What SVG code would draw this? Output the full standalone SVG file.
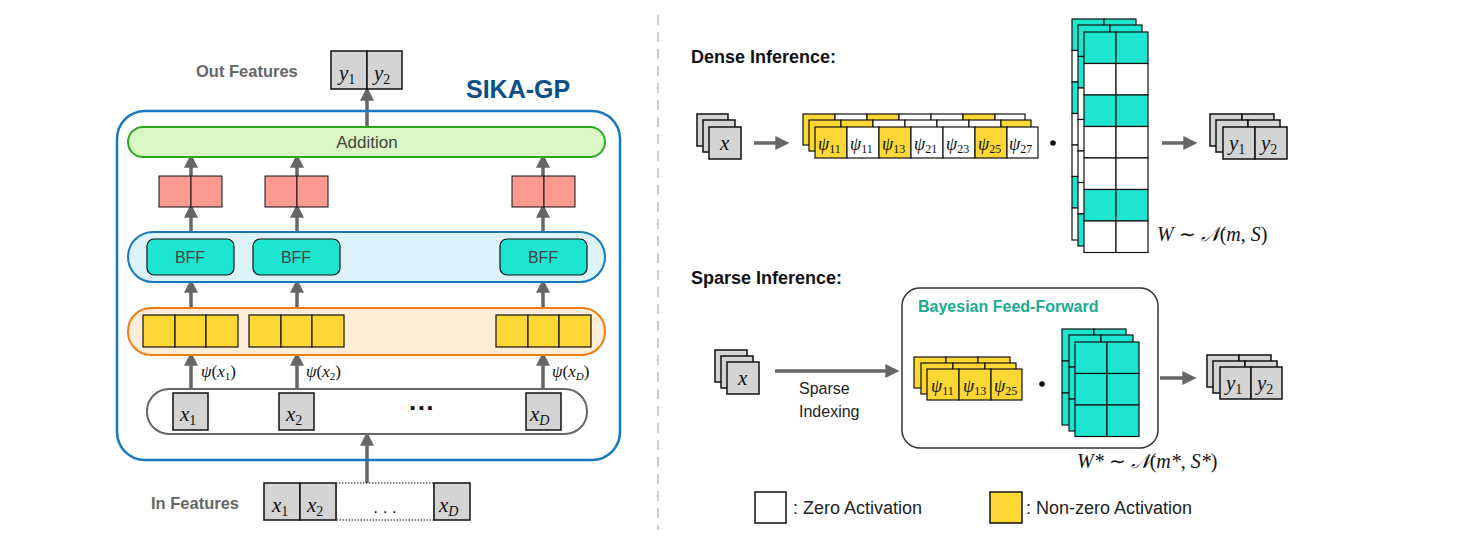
<svg xmlns="http://www.w3.org/2000/svg" width="1475" height="540" viewBox="0 0 1475 540">
<style>
.ar{stroke:#666;stroke-width:3.5;fill:none;marker-end:url(#ah)}
.g{fill:#d4d4d4;stroke:#111;stroke-width:1.5}
.y{fill:#fdd835;stroke:#111;stroke-width:1.2}
.w{fill:#fff;stroke:#111;stroke-width:1.2}
.t{fill:#1de5cf;stroke:#111;stroke-width:1.2}
.r{fill:#fb9a90;stroke:#111;stroke-width:1}
.m{font-family:"Liberation Serif",serif;font-style:italic;fill:#111}
.s{font-family:"Liberation Sans",Arial,sans-serif}
.hb{font-family:"Liberation Sans",Arial,sans-serif;font-weight:bold}
</style>
<defs>
<marker id="ah" markerWidth="4" markerHeight="4" refX="2.2" refY="2" orient="auto"><path d="M0,0L4,2L0,4Z" fill="#666"/></marker>
</defs>
<rect width="1475" height="540" fill="#fff"/>
<line x1="658" y1="15" x2="658" y2="530" stroke="#ccc" stroke-width="2" stroke-dasharray="10,7"/>

<g id="connectors">
<line class="ar" x1="367" y1="127" x2="367" y2="93"/>
<line class="ar" x1="191" y1="176" x2="191" y2="160"/>
<line class="ar" x1="297" y1="176" x2="297" y2="160"/>
<line class="ar" x1="543" y1="176" x2="543" y2="160"/>
<line class="ar" x1="191" y1="232" x2="191" y2="210"/>
<line class="ar" x1="297" y1="232" x2="297" y2="210"/>
<line class="ar" x1="543" y1="232" x2="543" y2="210"/>
<line class="ar" x1="191" y1="308" x2="191" y2="285"/>
<line class="ar" x1="297" y1="308" x2="297" y2="285"/>
<line class="ar" x1="543" y1="308" x2="543" y2="285"/>
<line class="ar" x1="191" y1="389" x2="191" y2="358"/>
<line class="ar" x1="297" y1="389" x2="297" y2="358"/>
<line class="ar" x1="543" y1="389" x2="543" y2="358"/>
<line class="ar" x1="367" y1="483" x2="367" y2="438"/>
<line class="ar" x1="754" y1="143" x2="783" y2="143"/>
<line class="ar" x1="1162" y1="143" x2="1191" y2="143"/>
<line class="ar" x1="775" y1="371" x2="893" y2="371"/>
<line class="ar" x1="1160" y1="378" x2="1190" y2="378"/>
</g>

<g id="out-features">
<text x="196" y="77" class="hb" font-size="16.5" fill="#666">Out Features</text>
<rect class="g" x="331" y="51" width="36" height="38"/><rect class="g" x="367" y="51" width="35" height="38"/>
<text x="339" y="80" class="m" font-size="21">y<tspan font-size="14" font-style="normal" dy="4">1</tspan></text>
<text x="374" y="80" class="m" font-size="21">y<tspan font-size="14" font-style="normal" dy="4">2</tspan></text>
</g>
<g id="sika-gp">
<text x="466" y="98" class="hb" font-size="25" fill="#0b4f87">SIKA-GP</text>
<rect x="117" y="111" width="503" height="349" rx="28" fill="none" stroke="#1877bd" stroke-width="2.5"/>
</g>
<g id="addition">
<rect x="128" y="127" width="477" height="30" rx="15" fill="#d9f8c3" stroke="#2aa81a" stroke-width="2"/>
<text x="367" y="148" class="s" font-size="17" fill="#444" text-anchor="middle">Addition</text>
</g>
<g id="outputs">
<rect class="r" x="159" y="176" width="32" height="31"/><rect class="r" x="191" y="176" width="31" height="31"/>
<rect class="r" x="265" y="176" width="32" height="31"/><rect class="r" x="297" y="176" width="31" height="31"/>
<rect class="r" x="512" y="176" width="32" height="31"/><rect class="r" x="544" y="176" width="31" height="31"/>
</g>
<g id="bff-layer">
<rect x="128" y="232" width="477" height="50" rx="25" fill="#dcf3fb" stroke="#1877bd" stroke-width="2"/>
<rect class="t" x="147" y="239" width="87" height="36" rx="7" stroke-width="1.5"/>
<rect class="t" x="253" y="239" width="87" height="36" rx="7" stroke-width="1.5"/>
<rect class="t" x="500" y="239" width="87" height="36" rx="7" stroke-width="1.5"/>
<text x="190" y="263" class="s" font-size="16" fill="#444" text-anchor="middle">BFF</text>
<text x="296" y="263" class="s" font-size="16" fill="#444" text-anchor="middle">BFF</text>
<text x="543" y="263" class="s" font-size="16" fill="#444" text-anchor="middle">BFF</text>
</g>
<g id="features-layer">
<rect x="128" y="308" width="477" height="47" rx="23" fill="#feeed8" stroke="#f07c12" stroke-width="2"/>
<g stroke-width="1.5">
<rect class="y" x="143" y="315" width="32" height="32"/><rect class="y" x="175" y="315" width="31" height="32"/><rect class="y" x="206" y="315" width="32" height="32"/>
<rect class="y" x="249" y="315" width="32" height="32"/><rect class="y" x="281" y="315" width="31" height="32"/><rect class="y" x="312" y="315" width="32" height="32"/>
<rect class="y" x="496" y="315" width="32" height="32"/><rect class="y" x="528" y="315" width="31" height="32"/><rect class="y" x="559" y="315" width="32" height="32"/>
</g>
<text x="201" y="377" class="m" font-size="17">ψ<tspan font-style="normal">(</tspan>x<tspan font-size="11" font-style="normal" dy="3">1</tspan><tspan dy="-3" font-style="normal">)</tspan></text>
<text x="306" y="377" class="m" font-size="17">ψ<tspan font-style="normal">(</tspan>x<tspan font-size="11" font-style="normal" dy="3">2</tspan><tspan dy="-3" font-style="normal">)</tspan></text>
<text x="552" y="377" class="m" font-size="17">ψ<tspan font-style="normal">(</tspan>x<tspan font-size="11" dy="3">D</tspan><tspan dy="-3" font-style="normal">)</tspan></text>
</g>
<g id="input-layer">
<rect x="147" y="389" width="440" height="45" rx="22" fill="#fff" stroke="#666" stroke-width="2"/>
<rect class="g" x="173" y="393" width="35" height="37"/><rect class="g" x="279" y="393" width="35" height="37"/><rect class="g" x="526" y="393" width="35" height="37"/>
<text x="180" y="421" class="m" font-size="21">x<tspan font-size="14" font-style="normal" dy="4">1</tspan></text>
<text x="286" y="421" class="m" font-size="21">x<tspan font-size="14" font-style="normal" dy="4">2</tspan></text>
<text x="530" y="421" class="m" font-size="21">x<tspan font-size="14" dy="4">D</tspan></text>
<text x="422" y="417" class="s" font-size="26" font-weight="bold" fill="#111" text-anchor="middle">···</text>
</g>
<g id="in-features">
<text x="151" y="509" class="hb" font-size="16.5" fill="#666">In Features</text>
<rect x="336" y="483" width="98" height="37" fill="#fff" stroke="#111" stroke-width="1" stroke-dasharray="1.5,1.5"/>
<rect class="g" x="264" y="483" width="36" height="37"/><rect class="g" x="300" y="483" width="36" height="37"/><rect class="g" x="434" y="483" width="36" height="37"/>
<text x="272" y="512" class="m" font-size="21">x<tspan font-size="14" font-style="normal" dy="4">1</tspan></text>
<text x="307" y="512" class="m" font-size="21">x<tspan font-size="14" font-style="normal" dy="4">2</tspan></text>
<text x="439" y="512" class="m" font-size="21">x<tspan font-size="14" dy="4">D</tspan></text>
<text x="385" y="513" class="s" font-size="17" fill="#111" text-anchor="middle">. . .</text>
</g>

<g id="dense">
<text x="691" y="63" class="hb" font-size="18" fill="#111">Dense Inference:</text>
<rect class="g" x="697" y="114" width="31" height="32" stroke-width="1"/><rect class="g" x="703" y="120" width="32" height="32" stroke-width="1"/><rect class="g" x="709" y="127" width="32" height="32" stroke-width="1"/>
<text x="720" y="150" class="m" font-size="21">x</text>
<g>
<rect class="y" x="803" y="114" width="32" height="31"/><rect class="w" x="835" y="114" width="32" height="31"/><rect class="y" x="867" y="114" width="32" height="31"/><rect class="w" x="899" y="114" width="32" height="31"/><rect class="w" x="931" y="114" width="32" height="31"/><rect class="y" x="963" y="114" width="32" height="31"/><rect class="w" x="995" y="114" width="30" height="31"/>
<rect class="y" x="809" y="120" width="32" height="31"/><rect class="y" x="841" y="120" width="32" height="31"/><rect class="w" x="873" y="120" width="32" height="31"/><rect class="w" x="905" y="120" width="32" height="31"/><rect class="w" x="937" y="120" width="32" height="31"/><rect class="w" x="969" y="120" width="32" height="31"/><rect class="y" x="1001" y="120" width="30" height="31"/>
<rect class="y" x="815" y="127" width="32" height="31"/><rect class="w" x="847" y="127" width="32" height="31"/><rect class="y" x="879" y="127" width="32" height="31"/><rect class="w" x="911" y="127" width="32" height="31"/><rect class="w" x="943" y="127" width="32" height="31"/><rect class="y" x="975" y="127" width="32" height="31"/><rect class="w" x="1007" y="127" width="31" height="31"/>
</g>
<g class="m" font-size="18">
<text x="818" y="150">ψ<tspan font-size="12" font-style="normal" dy="3">11</tspan></text>
<text x="850" y="150">ψ<tspan font-size="12" font-style="normal" dy="3">11</tspan></text>
<text x="882" y="150">ψ<tspan font-size="12" font-style="normal" dy="3">13</tspan></text>
<text x="914" y="150">ψ<tspan font-size="12" font-style="normal" dy="3">21</tspan></text>
<text x="946" y="150">ψ<tspan font-size="12" font-style="normal" dy="3">23</tspan></text>
<text x="978" y="150">ψ<tspan font-size="12" font-style="normal" dy="3">25</tspan></text>
<text x="1009" y="150">ψ<tspan font-size="12" font-style="normal" dy="3">27</tspan></text>
</g>
<circle cx="1053" cy="143" r="2.8" fill="#111"/>
<g>
<rect class="t" x="1072" y="19" width="32" height="31.5"/><rect class="t" x="1104" y="19" width="32" height="31.5"/>
<rect class="w" x="1072" y="50.5" width="64" height="31.5"/><rect class="t" x="1072" y="82" width="64" height="31.5"/>
<rect class="w" x="1072" y="113.5" width="64" height="31.5"/><rect class="w" x="1072" y="145" width="64" height="31.5"/>
<rect class="t" x="1072" y="176.5" width="64" height="31.5"/><rect class="w" x="1072" y="208" width="64" height="32"/>
<rect class="t" x="1078" y="25" width="32" height="31.5"/><rect class="t" x="1110" y="25" width="32" height="31.5"/>
<rect class="t" x="1078" y="56.5" width="64" height="31.5"/><rect class="w" x="1078" y="88" width="64" height="31.5"/>
<rect class="w" x="1078" y="119.5" width="64" height="31.5"/><rect class="w" x="1078" y="151" width="64" height="31.5"/>
<rect class="w" x="1078" y="182.5" width="64" height="31.5"/><rect class="t" x="1078" y="214" width="64" height="32"/>
</g>
<g>
<rect class="t" x="1084" y="32" width="32" height="31.5"/><rect class="t" x="1116" y="32" width="32" height="31.5"/>
<rect class="w" x="1084" y="63.5" width="32" height="31.5"/><rect class="w" x="1116" y="63.5" width="32" height="31.5"/>
<rect class="t" x="1084" y="95" width="32" height="31.5"/><rect class="t" x="1116" y="95" width="32" height="31.5"/>
<rect class="w" x="1084" y="126.5" width="32" height="31.5"/><rect class="w" x="1116" y="126.5" width="32" height="31.5"/>
<rect class="w" x="1084" y="158" width="32" height="31.5"/><rect class="w" x="1116" y="158" width="32" height="31.5"/>
<rect class="t" x="1084" y="189.5" width="32" height="31.5"/><rect class="t" x="1116" y="189.5" width="32" height="31.5"/>
<rect class="w" x="1084" y="221" width="32" height="31.5"/><rect class="w" x="1116" y="221" width="32" height="31.5"/>
</g>
<text x="1157" y="241" class="m" font-size="20">W <tspan font-style="normal">∼</tspan> 𝒩<tspan font-style="normal">(</tspan>m<tspan font-style="normal">, </tspan>S<tspan font-style="normal">)</tspan></text>
<g>
<rect class="g" x="1210" y="114" width="32" height="32" stroke-width="1"/><rect class="g" x="1242" y="114" width="32" height="32" stroke-width="1"/>
<rect class="g" x="1216" y="120" width="32" height="32" stroke-width="1"/><rect class="g" x="1248" y="120" width="32" height="32" stroke-width="1"/>
<rect class="g" x="1223" y="127" width="32" height="32" stroke-width="1"/><rect class="g" x="1255" y="127" width="32" height="32" stroke-width="1"/>
</g>
<text x="1229" y="150" class="m" font-size="21">y<tspan font-size="14" font-style="normal" dy="4">1</tspan></text>
<text x="1261" y="150" class="m" font-size="21">y<tspan font-size="14" font-style="normal" dy="4">2</tspan></text>
</g>

<g id="sparse">
<text x="691" y="284" class="hb" font-size="18" fill="#111">Sparse Inference:</text>
<rect class="g" x="715" y="350" width="32" height="32" stroke-width="1"/><rect class="g" x="721" y="356" width="32" height="32" stroke-width="1"/><rect class="g" x="727" y="362" width="32" height="32" stroke-width="1"/>
<text x="738" y="385" class="m" font-size="21">x</text>
<text x="799" y="394" class="s" font-size="16" fill="#222">Sparse</text>
<text x="799" y="417" class="s" font-size="16" fill="#222">Indexing</text>
</g>
<g id="bayesian-ff">
<rect x="902" y="288" width="256" height="160" rx="18" fill="#fff" stroke="#333" stroke-width="1.5"/>
<text x="918" y="312" class="hb" font-size="16" fill="#1aab8f">Bayesian Feed-Forward</text>
<rect class="y" x="914" y="357" width="32" height="31"/><rect class="y" x="946" y="357" width="32" height="31"/><rect class="y" x="978" y="357" width="32" height="31"/>
<rect class="y" x="921" y="363" width="32" height="31"/><rect class="y" x="953" y="363" width="32" height="31"/><rect class="y" x="985" y="363" width="31" height="31"/>
<rect class="y" x="927" y="369" width="32" height="31"/><rect class="y" x="959" y="369" width="32" height="31"/><rect class="y" x="991" y="369" width="31" height="31"/>
<g class="m" font-size="18">
<text x="931" y="392">ψ<tspan font-size="12" font-style="normal" dy="3">11</tspan></text>
<text x="963" y="392">ψ<tspan font-size="12" font-style="normal" dy="3">13</tspan></text>
<text x="994" y="392">ψ<tspan font-size="12" font-style="normal" dy="3">25</tspan></text>
</g>
<circle cx="1042" cy="384" r="2.8" fill="#111"/>
<rect class="t" x="1062" y="329" width="32" height="32"/><rect class="t" x="1094" y="329" width="32" height="32"/><rect class="t" x="1062" y="361" width="64" height="32"/><rect class="t" x="1062" y="393" width="64" height="32"/>
<rect class="t" x="1069" y="335" width="32" height="32"/><rect class="t" x="1101" y="335" width="32" height="32"/><rect class="t" x="1069" y="367" width="64" height="32"/><rect class="t" x="1069" y="399" width="64" height="32"/>
<rect class="t" x="1075" y="342" width="32" height="31.5"/><rect class="t" x="1107" y="342" width="32" height="31.5"/>
<rect class="t" x="1075" y="373.5" width="32" height="31.5"/><rect class="t" x="1107" y="373.5" width="32" height="31.5"/>
<rect class="t" x="1075" y="405" width="32" height="31.5"/><rect class="t" x="1107" y="405" width="32" height="31.5"/>
<text x="1077" y="468" class="m" font-size="20">W* <tspan font-style="normal">∼</tspan> 𝒩<tspan font-style="normal">(</tspan>m*<tspan font-style="normal">, </tspan>S*<tspan font-style="normal">)</tspan></text>
</g>
<g id="sparse-output">
<rect class="g" x="1207" y="355" width="32" height="32" stroke-width="1"/><rect class="g" x="1239" y="355" width="32" height="32" stroke-width="1"/>
<rect class="g" x="1213" y="361" width="32" height="32" stroke-width="1"/><rect class="g" x="1245" y="361" width="32" height="32" stroke-width="1"/>
<rect class="g" x="1220" y="367" width="31" height="32" stroke-width="1"/><rect class="g" x="1251" y="367" width="31" height="32" stroke-width="1"/>
<text x="1226" y="390" class="m" font-size="21">y<tspan font-size="14" font-style="normal" dy="4">1</tspan></text>
<text x="1257" y="390" class="m" font-size="21">y<tspan font-size="14" font-style="normal" dy="4">2</tspan></text>
</g>
<g id="legend">
<rect x="755" y="492" width="31" height="31" fill="#fff" stroke="#111" stroke-width="1.5"/>
<text x="793" y="514" class="s" font-size="18" fill="#222">: Zero Activation</text>
<rect x="990" y="492" width="32" height="31" fill="#fdd835" stroke="#111" stroke-width="1.5"/>
<text x="1026" y="514" class="s" font-size="18" fill="#222">: Non-zero Activation</text>
</g>
</svg>
